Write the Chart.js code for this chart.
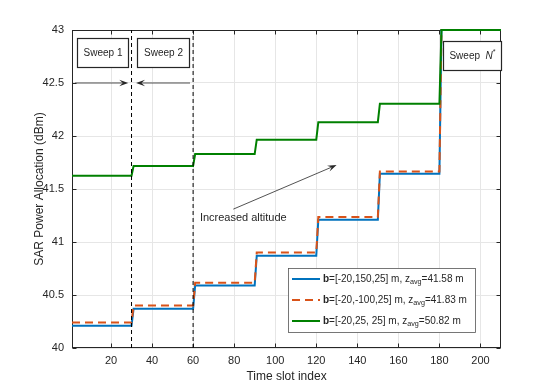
<!DOCTYPE html>
<html>
<head>
<meta charset="utf-8">
<script src="https://cdn.jsdelivr.net/npm/chart.js@4.4.1/dist/chart.umd.min.js"></script>
<style>
  html, body { margin: 0; padding: 0; background: #fff; }
  canvas { display: block; }
</style>
</head>
<body>
<canvas id="sarChart" width="554" height="392"></canvas>
<script>
// sweeps of 30 slots each
const sweepStart = [1, 31, 61, 91, 121, 151, 181];
const sweepEnd = [30, 60, 90, 120, 150, 180, 210];

// SAR power per sweep (dBm)
const powerB1 = [40.21, 40.37, 40.59, 40.87, 41.21, 41.645, 43];
const powerB2 = [40.24, 40.40, 40.615, 40.90, 41.235, 41.665, 43];
const powerB3 = [41.625, 41.717, 41.83, 41.965, 42.13, 42.305, 43];

const xTicks = [20, 40, 60, 80, 100, 120, 140, 160, 180, 200];
const yTicks = [40, 40.5, 41, 41.5, 42, 42.5, 43];
const sweepMarks = [30, 60];

const legendRows = [
  [{t: "b", bold: true}, {t: "=[-20,150,25] m, z"}, {t: "avg", sub: true}, {t: "=41.58 m"}],
  [{t: "b", bold: true}, {t: "=[-20,-100,25] m, z"}, {t: "avg", sub: true}, {t: "=41.83 m"}],
  [{t: "b", bold: true}, {t: "=[-20,25, 25] m, z"}, {t: "avg", sub: true}, {t: "=50.82 m"}]
];

const AXIS = "#262626";
const GRID = "#e6e6e6";
const FONT = "'Liberation Sans', Arial, Helvetica, sans-serif";
const BLUE = "#0072BD", ORANGE = "#D95319", GREEN = "#008000";

function steps(vals) {
  const pts = [];
  for (let i = 0; i < vals.length; i++) {
    pts.push({x: sweepStart[i], y: vals[i]});
    pts.push({x: sweepEnd[i], y: vals[i]});
  }
  return pts;
}

function arrow(ctx, x1, y1, x2, y2, len, half) {
  const dx = x2 - x1, dy = y2 - y1, d = Math.hypot(dx, dy);
  const ux = dx / d, uy = dy / d, nx = -uy, ny = ux;
  ctx.beginPath();
  ctx.moveTo(x1, y1);
  ctx.lineTo(x2 - ux * len * 0.6, y2 - uy * len * 0.6);
  ctx.stroke();
  ctx.beginPath();
  ctx.moveTo(x2, y2);
  ctx.lineTo(x2 - ux * len + nx * half, y2 - uy * len + ny * half);
  ctx.lineTo(x2 - ux * len * 0.6, y2 - uy * len * 0.6);
  ctx.lineTo(x2 - ux * len - nx * half, y2 - uy * len - ny * half);
  ctx.closePath();
  ctx.fill();
}

function richText(ctx, segs, x, y, size) {
  ctx.textBaseline = "middle";
  ctx.textAlign = "left";
  for (const s of segs) {
    if (s.sub) {
      ctx.font = `${size * 0.72}px ${FONT}`;
      ctx.fillText(s.t, x, y + 3.5);
    } else if (s.sup) {
      ctx.font = `${size * 0.72}px ${FONT}`;
      ctx.fillText(s.t, x, y - 4);
    } else {
      ctx.font = `${s.bold ? "bold " : ""}${s.italic ? "italic " : ""}${size}px ${FONT}`;
      ctx.fillText(s.t, x, y);
    }
    x += ctx.measureText(s.t).width;
  }
  return x;
}

const frame = {
  id: "frame",
  beforeDatasetsDraw(chart) {
    const {ctx, chartArea: a, scales: {x, y}} = chart;
    ctx.save();
    ctx.strokeStyle = AXIS;
    ctx.lineWidth = 1;
    const L = Math.round(a.left) + 0.5, R = Math.round(a.right) - 0.5;
    const T = Math.round(a.top) + 0.5, B = Math.round(a.bottom) - 0.5;
    ctx.strokeRect(L, T, R - L, B - T);
    ctx.beginPath();
    xTicks.forEach(v => {
      const px = Math.round(x.getPixelForValue(v)) + 0.5;
      ctx.moveTo(px, B); ctx.lineTo(px, B - 4);
      ctx.moveTo(px, T); ctx.lineTo(px, T + 4);
    });
    yTicks.forEach(v => {
      const py = Math.round(y.getPixelForValue(v)) + 0.5;
      ctx.moveTo(L, py); ctx.lineTo(L + 4, py);
      ctx.moveTo(R, py); ctx.lineTo(R - 4, py);
    });
    ctx.stroke();
    ctx.restore();
  },
  afterDatasetsDraw(chart) {
    const {ctx, chartArea: a, scales: {x, y}} = chart;
    const X = v => x.getPixelForValue(v), Y = v => y.getPixelForValue(v);
    ctx.save();
    ctx.fillStyle = AXIS;
    ctx.strokeStyle = AXIS;

    // sweep boxes
    const boxes = [
      {x0: 3.3, x1: 28.4, y0: 42.92, y1: 42.65, segs: [{t: "Sweep 1"}]},
      {x0: 32.8, x1: 58.1, y0: 42.92, y1: 42.65, segs: [{t: "Sweep 2"}]},
      {x0: 181.9, x1: 209.8, y0: 42.9, y1: 42.625, segs: [{t: "Sweep  "}, {t: "N", italic: true}, {t: "*", sup: true}]}
    ];
    boxes.forEach(b => {
      const l = Math.round(X(b.x0)) + 0.5, r = Math.round(X(b.x1)) + 0.5;
      const t = Math.round(Y(b.y0)) + 0.5, bt = Math.round(Y(b.y1)) + 0.5;
      ctx.fillStyle = "#fff";
      ctx.fillRect(l, t, r - l, bt - t);
      ctx.lineWidth = 1.2;
      ctx.strokeRect(l, t, r - l, bt - t);
      ctx.fillStyle = AXIS;
      ctx.font = `10px ${FONT}`;
      let w = 0;
      b.segs.forEach(s => {
        ctx.font = `${s.sup ? "7.2px" : (s.italic ? "italic 10px" : "10px")} ${FONT}`;
        w += ctx.measureText(s.t).width;
      });
      richText(ctx, b.segs, (l + r) / 2 - w / 2, (t + bt) / 2, 10);
    });

    // sweep arrows
    ctx.lineWidth = 0.8;
    arrow(ctx, X(2.5), Y(42.5), X(28.4), Y(42.5), 9, 3.2);
    arrow(ctx, X(58.5), Y(42.5), X(32.2), Y(42.5), 9, 3.2);

    // increased altitude
    arrow(ctx, X(79.6), Y(41.31), X(129.9), Y(41.726), 9, 3.2);
    ctx.font = `11px ${FONT}`;
    ctx.textAlign = "left";
    ctx.textBaseline = "middle";
    ctx.fillText("Increased altitude", X(63.3), Y(41.226));

    // legend
    const lx = 288, ly = 268, lw = 187, lh = 64;
    ctx.fillStyle = "#fff";
    ctx.fillRect(lx + 0.5, ly + 0.5, lw, lh);
    ctx.lineWidth = 0.8;
    ctx.strokeStyle = "#555";
    ctx.strokeRect(lx + 0.5, ly + 0.5, lw, lh);
    const rowsY = [279, 300, 321];
    chart.data.datasets.slice(0, 3).forEach((ds, i) => {
      ctx.strokeStyle = ds.borderColor;
      ctx.lineWidth = ds.borderWidth;
      ctx.setLineDash(ds.borderDash || []);
      ctx.beginPath();
      ctx.moveTo(lx + 4, rowsY[i]);
      ctx.lineTo(lx + 32, rowsY[i]);
      ctx.stroke();
      ctx.setLineDash([]);
      ctx.fillStyle = AXIS;
      richText(ctx, legendRows[i], lx + 35, rowsY[i], 10);
    });
    ctx.restore();
  }
};

const datasets = [
  {data: steps(powerB1), borderColor: BLUE, borderWidth: 2, order: 3},
  {data: steps(powerB2), borderColor: ORANGE, borderWidth: 2, borderDash: [8, 5], order: 2},
  {data: steps(powerB3), borderColor: GREEN, borderWidth: 2, order: 1}
];
sweepMarks.forEach(m => {
  datasets.push({data: [{x: m, y: 40}, {x: m, y: 43}], borderColor: "#000", borderWidth: 1, borderDash: [4, 3], order: 0});
});
datasets.forEach(d => { d.showLine = true; d.pointRadius = 0; d.clip = 4; d.tension = 0; });

new Chart(document.getElementById("sarChart"), {
  type: "scatter",
  data: {datasets},
  options: {
    responsive: false,
    animation: false,
    layout: {padding: {top: 30, right: 53, left: 0, bottom: 0}},
    plugins: {legend: {display: false}, tooltip: {enabled: false}},
    scales: {
      x: {
        type: "linear", min: 1, max: 210,
        afterBuildTicks: s => { s.ticks = xTicks.map(v => ({value: v})); },
        afterFit: s => { s.height = 44; },
        grid: {color: GRID, drawTicks: false},
        border: {display: false},
        ticks: {color: AXIS, padding: 6, maxRotation: 0, font: {family: FONT, size: 11}, callback: v => String(v)},
        title: {display: true, text: "Time slot index", color: AXIS, font: {family: FONT, size: 12}, padding: {top: 0, bottom: 8}}
      },
      y: {
        type: "linear", min: 40, max: 43,
        afterBuildTicks: s => { s.ticks = yTicks.map(v => ({value: v})); },
        afterFit: s => { s.width = 72; },
        grid: {color: GRID, drawTicks: false},
        border: {display: false},
        ticks: {color: AXIS, padding: 8, font: {family: FONT, size: 11}, callback: v => String(v)},
        title: {display: true, text: "SAR Power Allocation (dBm)", color: AXIS, font: {family: FONT, size: 12}, padding: {top: 32, bottom: 0}}
      }
    }
  },
  plugins: [frame]
});
</script>
</body>
</html>
